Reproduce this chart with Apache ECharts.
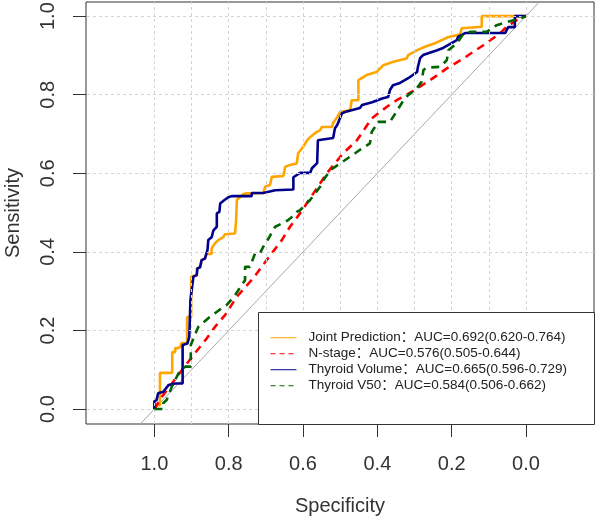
<!DOCTYPE html>
<html><head><meta charset="utf-8">
<script src="https://cdn.jsdelivr.net/npm/echarts/dist/echarts.min.js"></script>
<style>html,body{margin:0;padding:0;background:#fff}#c{width:597px;height:518px}</style>
</head><body><div id="c"></div><script>
// ---- data ----
const curveNames = ['Joint Prediction', 'N-stage', 'Thyroid Volume', 'Thyroid V50'];
const aucTexts = ['AUC=0.692(0.620-0.764)', 'AUC=0.576(0.505-0.644)', 'AUC=0.665(0.596-0.729)', 'AUC=0.584(0.506-0.662)'];
const curveColors = ['#FFA500', '#FF0000', '#00008B', '#006400'];
const curveDashed = [false, true, false, true];

const jointSpec = [1,0.995,0.995,0.985,0.985,0.952,0.952,0.944,0.944,0.936,0.936,0.928,0.928,0.912,0.912,0.901,0.901,0.886,0.886,0.877,0.873,0.864,0.860,0.860,0.846,0.846,0.837,0.828,0.814,0.810,0.783,0.780,0.778,0.769,0.761,0.751,0.707,0.702,0.689,0.684,0.653,0.648,0.635,0.630,0.617,0.613,0.608,0.600,0.589,0.581,0.568,0.554,0.549,0.522,0.519,0.508,0.500,0.495,0.473,0.469,0.451,0.451,0.429,0.402,0.384,0.357,0.321,0.317,0.294,0.272,0.245,0.227,0.209,0.178,0.173,0.119,0.119,0];
const jointSens = [0,0,0.010,0.010,0.092,0.092,0.145,0.145,0.155,0.155,0.160,0.160,0.168,0.168,0.234,0.234,0.337,0.341,0.358,0.361,0.379,0.383,0.383,0.395,0.395,0.409,0.422,0.430,0.438,0.445,0.447,0.481,0.532,0.540,0.547,0.549,0.550,0.566,0.570,0.591,0.593,0.617,0.621,0.625,0.625,0.651,0.655,0.667,0.684,0.692,0.702,0.710,0.718,0.718,0.728,0.743,0.756,0.761,0.761,0.786,0.786,0.837,0.850,0.858,0.875,0.884,0.892,0.901,0.913,0.922,0.931,0.939,0.947,0.953,0.969,0.973,1.0,1.0];

const nstageSpec = [1,0.980,0.922,0.895,0.859,0.837,0.810,0.778,0.734,0.698,0.657,0.635,0.608,0.572,0.536,0.492,0.455,0.415,0.375,0.348,0.308,0.258,0.213,0.169,0.115,0.070,0.052,0.025,0];
const nstageSens = [0,0.031,0.104,0.137,0.180,0.209,0.239,0.286,0.333,0.379,0.430,0.464,0.498,0.549,0.600,0.651,0.684,0.740,0.769,0.786,0.807,0.837,0.867,0.892,0.926,0.956,0.973,0.990,1];

const volumeSpec = [1,1,0.994,0.990,0.990,0.976,0.962,0.944,0.924,0.924,0.911,0.906,0.903,0.903,0.895,0.886,0.884,0.877,0.873,0.864,0.857,0.855,0.846,0.841,0.832,0.832,0.825,0.823,0.814,0.801,0.792,0.738,0.738,0.707,0.675,0.626,0.626,0.608,0.581,0.576,0.562,0.560,0.519,0.514,0.508,0.495,0.487,0.447,0.441,0.414,0.385,0.371,0.366,0.358,0.339,0.326,0.317,0.293,0.291,0.285,0.277,0.239,0.223,0.210,0.186,0.183,0.164,0.056,0.048,0.030,0.030,0.030,0];
const volumeSens = [0,0.020,0.023,0.023,0.040,0.044,0.061,0.065,0.065,0.163,0.167,0.184,0.184,0.277,0.337,0.341,0.358,0.361,0.379,0.383,0.405,0.430,0.437,0.455,0.464,0.498,0.502,0.523,0.530,0.539,0.542,0.542,0.550,0.550,0.557,0.559,0.590,0.601,0.601,0.613,0.626,0.684,0.690,0.715,0.723,0.753,0.756,0.766,0.774,0.781,0.791,0.794,0.812,0.824,0.830,0.837,0.842,0.858,0.870,0.893,0.901,0.913,0.919,0.926,0.939,0.947,0.957,0.957,0.972,0.972,0.980,1.0,1.0];

const v50Spec = [1,0.976,0.976,0.967,0.953,0.935,0.917,0.902,0.902,0.882,0.850,0.837,0.814,0.805,0.783,0.778,0.756,0.756,0.743,0.729,0.716,0.707,0.693,0.675,0.666,0.640,0.630,0.617,0.608,0.581,0.554,0.545,0.527,0.500,0.460,0.442,0.420,0.415,0.406,0.398,0.366,0.326,0.317,0.294,0.281,0.276,0.267,0.231,0.213,0.209,0.186,0.169,0.151,0.106,0.079,0.052,0.016,0];
const v50Sens = [0,0,0.015,0.023,0.057,0.091,0.108,0.108,0.163,0.209,0.235,0.244,0.260,0.265,0.290,0.294,0.328,0.362,0.362,0.396,0.396,0.413,0.434,0.464,0.468,0.481,0.489,0.502,0.506,0.532,0.566,0.583,0.608,0.625,0.651,0.663,0.676,0.706,0.718,0.731,0.731,0.791,0.799,0.816,0.833,0.863,0.869,0.871,0.888,0.913,0.931,0.954,0.960,0.960,0.977,0.985,0.994,1];

const axisTicks = [0, 0.2, 0.4, 0.6, 0.8, 1.0];
const xGridVals = [0, 0.1, 0.2, 0.3, 0.4, 0.5, 0.6, 0.7, 0.8, 0.9, 1.0];
const yGridVals = [0, 0.2, 0.4, 0.6, 0.8, 1.0];
const chanceSpec = [1.2, -0.2];
const chanceSens = [-0.2, 1.2];

// ---- chart ----
const FONT = '"Liberation Sans", Arial, "Noto Sans CJK SC", sans-serif';
const zip = (a, b) => a.map((v, i) => [v, b[i]]);
const specs = [jointSpec, nstageSpec, volumeSpec, v50Spec];
const senss = [jointSens, nstageSens, volumeSens, v50Sens];

const chart = echarts.init(document.getElementById('c'), null, {renderer: 'canvas'});

const series = [{
  type: 'line', name: '_chance', data: zip(chanceSpec, chanceSens),
  showSymbol: false, symbol: 'none', silent: true, z: 1,
  lineStyle: {color: '#a8a8a8', width: 1},
  markLine: {
    silent: true, symbol: 'none', label: {show: false},
    lineStyle: {color: '#d4d4d4', width: 1, type: [3, 3]},
    data: xGridVals.map(v => ({xAxis: v})).concat(yGridVals.map(v => ({yAxis: v})))
  }
}];
curveNames.forEach((n, i) => {
  series.push({
    type: 'line', name: n, data: zip(specs[i], senss[i]),
    showSymbol: false, symbol: 'none', z: 2 + i,
    lineStyle: {color: curveColors[i], width: 2.6, type: curveDashed[i] ? [8, 6] : 'solid'},
    itemStyle: {color: curveColors[i]}
  });
});

chart.setOption({
  animation: false,
  backgroundColor: '#fff',
  grid: {left: 86, top: 2, width: 508, height: 422, show: true, borderColor: '#333', borderWidth: 1,
         containLabel: false, outerBoundsMode: 'none'},
  xAxis: {
    type: 'value', inverse: true, min: -0.183, max: 1.184,
    axisLine: {show: false, onZero: false}, splitLine: {show: false},
    axisTick: {show: true, customValues: axisTicks, length: 13, lineStyle: {color: '#333'}},
    axisLabel: {customValues: axisTicks, formatter: v => v.toFixed(1), fontSize: 20, color: '#333', margin: 30, fontFamily: FONT},
    name: 'Specificity', nameLocation: 'middle', nameGap: 72,
    nameTextStyle: {fontSize: 20, color: '#333', fontFamily: FONT}
  },
  yAxis: {
    type: 'value', min: -0.038, max: 1.036,
    axisLine: {show: false, onZero: false}, splitLine: {show: false},
    axisTick: {show: true, customValues: axisTicks, length: 13, lineStyle: {color: '#333'}},
    axisLabel: {customValues: axisTicks, formatter: v => v.toFixed(1), fontSize: 20, color: '#333', margin: 28, rotate: 90, fontFamily: FONT},
    name: 'Sensitivity', nameLocation: 'middle', nameGap: 63,
    nameTextStyle: {fontSize: 20, color: '#333', fontFamily: FONT}
  },
  graphic: [{
    type: 'rect', left: 258, top: 312, z: 50,
    shape: {width: 336, height: 112},
    style: {fill: '#fff', stroke: '#333', lineWidth: 1}
  }],
  legend: {
    data: curveNames.map((n, i) => ({
      name: n,
      lineStyle: {width: 1, color: curveColors[i], type: curveDashed[i] ? [5, 4] : 'solid'}
    })),
    orient: 'vertical', left: 270, top: 331, z: 60,
    itemWidth: 26, itemHeight: 14, itemGap: 2.5, padding: 0,
    itemStyle: {opacity: 0},
    formatter: name => name + '：' + aucTexts[curveNames.indexOf(name)],
    textStyle: {fontSize: 13.5, color: '#222', fontFamily: FONT, padding: [0, 0, 0, 7]}
  },
  series: series
});
</script></body></html>
